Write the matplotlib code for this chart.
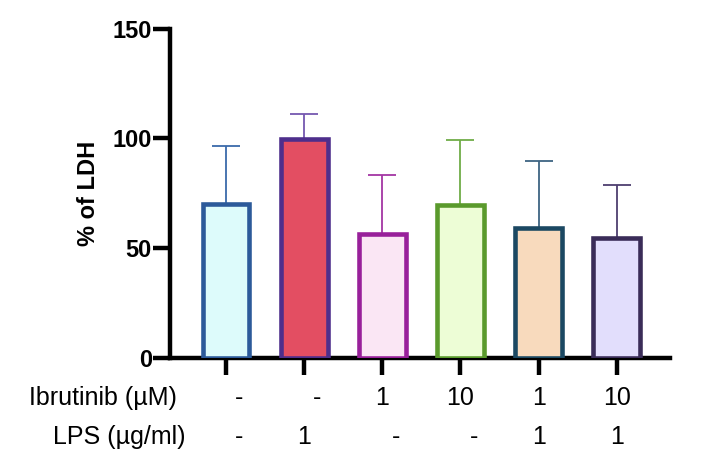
import matplotlib
matplotlib.use("Agg")
import matplotlib.pyplot as plt
import matplotlib.transforms as mtransforms

plt.rcParams['font.family'] = ['Liberation Sans', 'DejaVu Sans']

# Data
means = [70.0, 99.5, 56.5, 69.5, 59.2, 54.6]
errors = [26.5, 11.6, 27.0, 29.7, 30.6, 24.0]
ibrutinib = ['-', '-', '1', '10', '1', '10']
lps = ['-', '1', '-', '-', '1', '1']
row_labels = ['Ibrutinib (µM)', 'LPS (µg/ml)']
ylabel = '% of LDH'
yticks = [0, 50, 100, 150]

fills = ['#DDFBFB', '#E34E62', '#FAE6F4', '#EDFDD6', '#F8DABD', '#E2DEFC']
edges = ['#2C5A9A', '#4E2E8C', '#98209A', '#5A9A2C', '#1B4862', '#3A2C58']
errcols = ['#3A6AAA', '#7558B0', '#A436A4', '#70AC48', '#3E6482', '#4E3F70']

fig = plt.figure(figsize=(7.02, 4.74), dpi=100)
ax = fig.add_axes([170/702, 1-358/474, 500/702, (358-28.5)/474])

x = list(range(len(means)))
for i in x:
    ax.bar(i, means[i], width=0.6, color=fills[i], edgecolor=edges[i],
           linewidth=3.3, zorder=3)
    eb = ax.errorbar(i, means[i], yerr=[[0], [errors[i]]], fmt='none',
                     ecolor=errcols[i], elinewidth=1.3, capsize=10,
                     capthick=1.3, zorder=2)
    caps = eb.lines[1]
    if len(caps) >= 1:
        caps[0].set_visible(False)

ax.set_xlim(-0.716, 5.68)
ax.set_ylim(0, 150)
ax.set_yticks(yticks)
ax.set_yticklabels([str(t) for t in yticks], fontsize=17, fontweight='bold')
ax.set_xticks(x)
ax.set_xticklabels([])
ax.tick_params(axis='both', width=3.2, length=12, color='black')
ax.tick_params(axis='y', pad=1)

for s in ['top', 'right']:
    ax.spines[s].set_visible(False)
for s in ['left', 'bottom']:
    ax.spines[s].set_linewidth(3.2)
    ax.spines[s].set_capstyle('projecting')

ax.set_ylabel(ylabel, fontsize=17, fontweight='bold', labelpad=9)

trans = mtransforms.blended_transform_factory(ax.transData, fig.transFigure)

def shift(lbl):
    return 0.17 if lbl == '-' else 0.0

for i in x:
    ax.text(i + shift(ibrutinib[i]), 1-398/474, ibrutinib[i], transform=trans,
            ha='center', va='center', fontsize=18, clip_on=False)
    ax.text(i + shift(lps[i]), 1-437/474, lps[i], transform=trans,
            ha='center', va='center', fontsize=18, clip_on=False)

fig.text(177/702, 1-398/474, row_labels[0], ha='right', va='center', fontsize=18)
fig.text(185/702, 1-437/474, row_labels[1], ha='right', va='center', fontsize=18)

fig.savefig('out.png', dpi=100)
